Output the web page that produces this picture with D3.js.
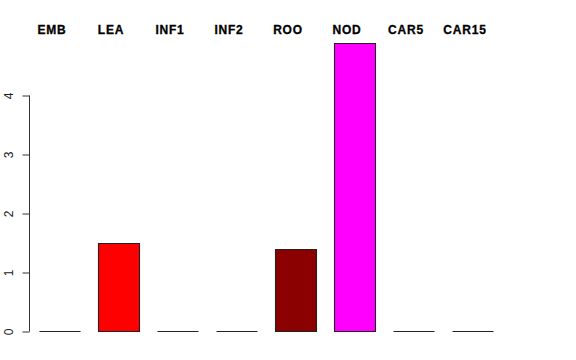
<!DOCTYPE html>
<html>
<head>
<meta charset="utf-8">
<script src="https://cdn.jsdelivr.net/npm/d3@7"></script>
<style>
  body { margin: 0; background: #fff; }
  svg { display: block; }
</style>
</head>
<body>
<div id="chart"></div>
<script>
// tissue groups and their values
const categories = ["EMB", "LEA", "INF1", "INF2", "ROO", "NOD", "CAR5", "CAR15"];
const values = [0, 1.49, 0, 0, 1.39, 4.88, 0, 0];
const colors = ["#ffffff", "#ff0000", "#ffffff", "#ffffff", "#8b0000", "#ff00ff", "#ffffff", "#ffffff"];
const yTicks = [0, 1, 2, 3, 4];

const width = 576;
const height = 360;

const svg = d3.select("#chart").append("svg")
    .attr("width", width)
    .attr("height", height);

const x = d3.scaleBand()
    .domain(categories)
    .range([30, 502])
    .paddingInner(0.305)
    .paddingOuter(0.1525);

const y = d3.scaleLinear()
    .domain([0, 4])
    .range([331, 95]);

// bars as closed paths so that zero height bars still show their outline
svg.append("g")
    .selectAll("path")
    .data(categories)
    .join("path")
        .attr("d", (d, i) => {
            const x0 = Math.round(x(d)) + 0.5;
            const x1 = x0 + Math.round(x.bandwidth());
            const y0 = Math.round(y(0)) + 0.5;
            const y1 = Math.round(y(values[i])) + 0.5;
            return `M${x0},${y0}V${y1}H${x1}V${y0}Z`;
        })
        .attr("fill", (d, i) => colors[i])
        .attr("stroke", "#222")
        .attr("stroke-width", 1.1);

// labels above the plot
svg.append("g")
    .attr("font-family", "Liberation Sans, Arial, sans-serif")
    .attr("font-weight", "bold")
    .attr("font-size", 12)
    .attr("text-anchor", "middle")
    .selectAll("text")
    .data(categories)
    .join("text")
        .attr("x", (d) => x(d) + x.bandwidth() / 2 - 7.5)
        .attr("y", 34)
        .attr("letter-spacing", 0.8)
        .attr("stroke", "#000")
        .attr("stroke-width", 0.3)
        .text((d) => d);

// left axis, R style
const yAxis = d3.axisLeft(y)
    .tickValues(yTicks)
    .tickSize(7)
    .tickPadding(0)
    .tickFormat(d3.format("d"));

const ax = svg.append("g")
    .attr("transform", "translate(29.5,0.5)")
    .call(yAxis);

ax.select(".domain").attr("d", `M0,${y(4)}V${y(0)}`).attr("stroke", "#333");
ax.selectAll(".tick line").attr("stroke", "#333");
ax.selectAll(".tick text")
    .attr("font-family", "Liberation Sans, Arial, sans-serif")
    .attr("font-size", 12)
    .attr("fill", "#222")
    .attr("transform", "rotate(-90)")
    .attr("x", 0)
    .attr("y", -16.5)
    .attr("dy", 0)
    .attr("text-anchor", "middle");
</script>
</body>
</html>
